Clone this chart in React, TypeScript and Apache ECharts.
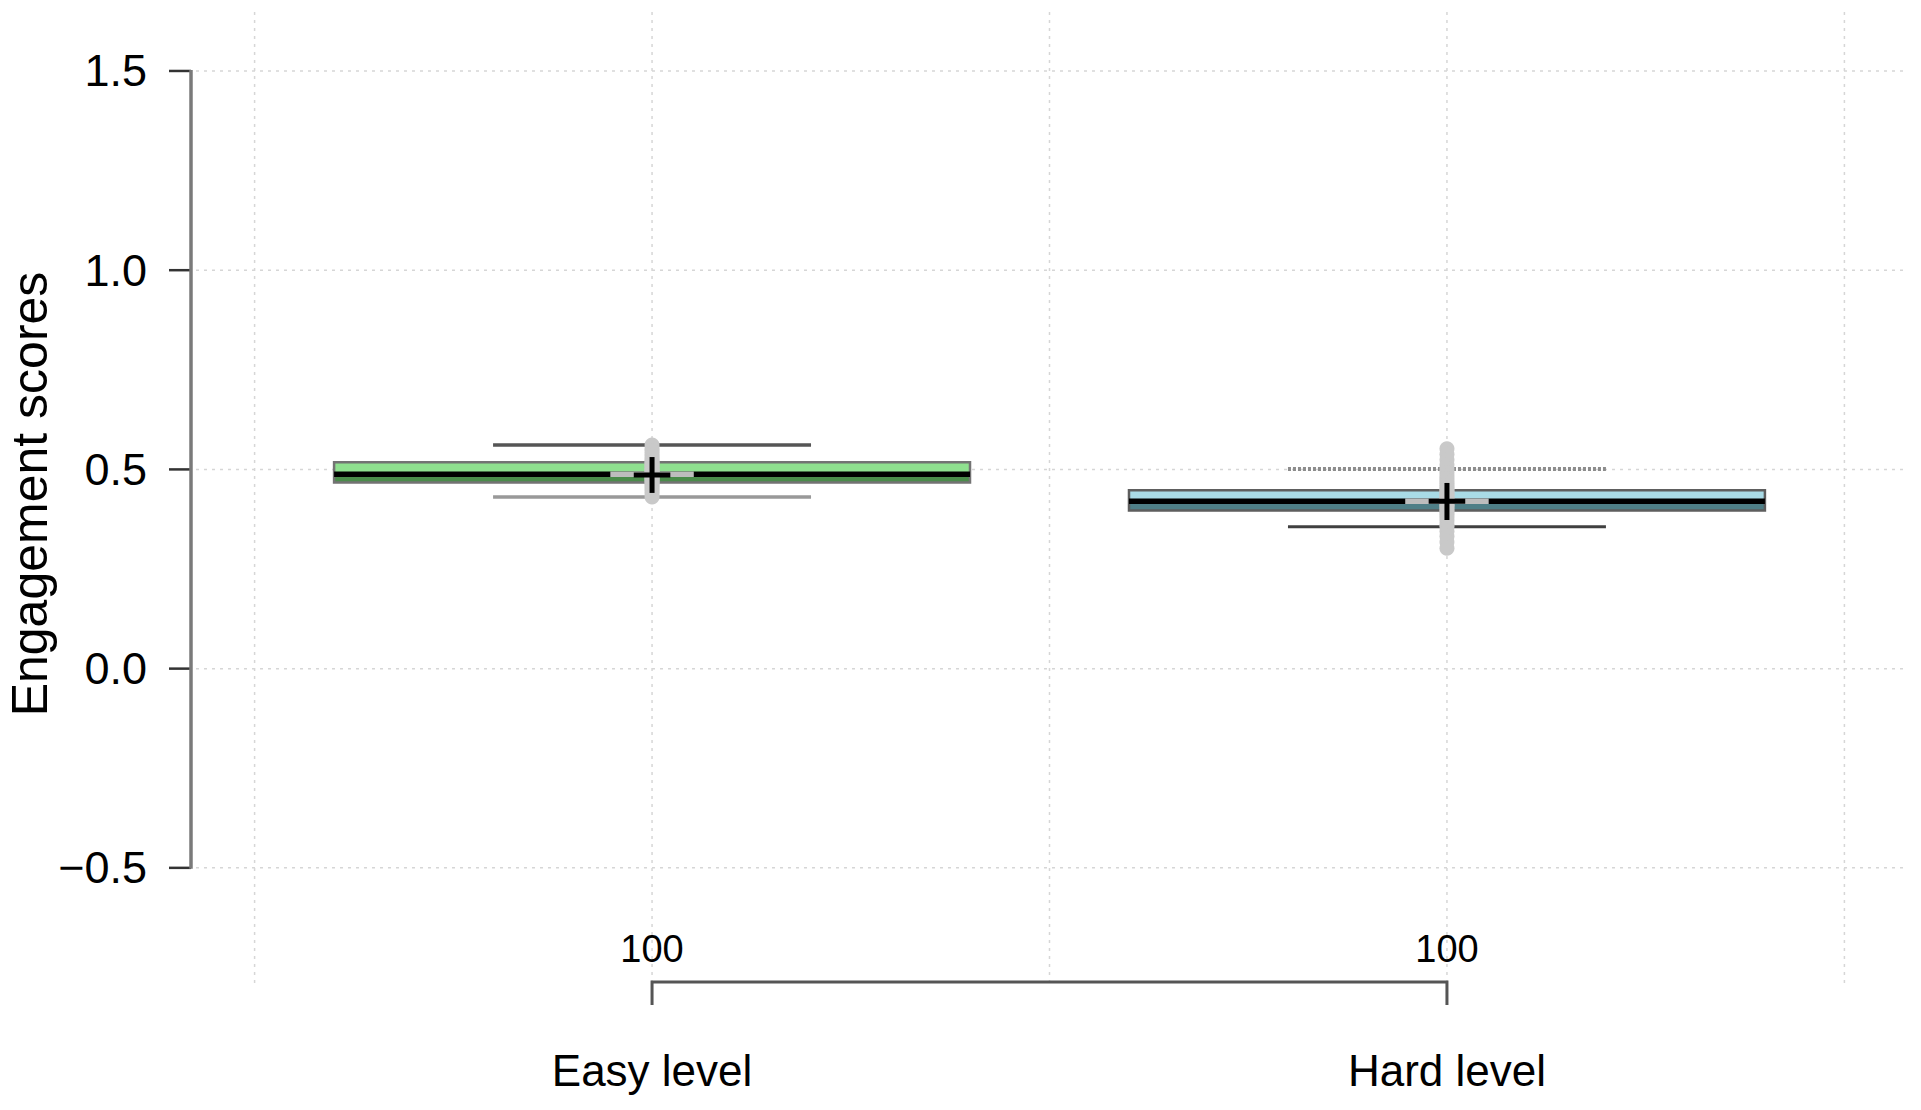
import React, { useEffect, useRef } from "react";
import * as echarts from "echarts";

// ---- data ----
const categories = ["Easy level", "Hard level"];
const yTitle = "Engagement scores";
const groupX = [1, 3];
const counts = [100, 100];
const q1 = [0.467, 0.397];
const median = [0.488, 0.42];
const q3 = [0.518, 0.448];
const whiskerLow = [0.431, 0.356];
const whiskerHigh = [0.561, 0.501];
const means = [0.486, 0.42];
const ciLow = [0.441, 0.373];
const ciHigh = [0.531, 0.466];
const easyPoints = [
  0.561, 0.552, 0.546, 0.539, 0.533, 0.527, 0.522, 0.518, 0.514, 0.511, 0.507, 0.503, 0.5, 0.497, 0.494,
  0.491, 0.488, 0.486, 0.483, 0.48, 0.477, 0.474, 0.471, 0.467, 0.463, 0.458, 0.452, 0.446, 0.439, 0.431,
];
const hardPoints = [
  0.552, 0.538, 0.524, 0.512, 0.501, 0.492, 0.484, 0.477, 0.471, 0.465, 0.459, 0.454, 0.449, 0.445, 0.441,
  0.437, 0.433, 0.429, 0.425, 0.421, 0.418, 0.414, 0.41, 0.406, 0.402, 0.397, 0.392, 0.386, 0.379, 0.371,
  0.362, 0.356, 0.345, 0.332, 0.318, 0.302,
];
const groupPoints = [easyPoints, hardPoints];
const yTicks = [-0.5, 0, 0.5, 1, 1.5];
const xGridValues = [0, 1, 2, 3, 4];
const xMin = -0.16;
const xMax = 4.16;
const yMin = -0.789;
const yMax = 1.648;

// ---- styles ----
const FONT = "Liberation Sans";
const BOX_HW = 0.8;
const WHISKER_HW = 0.4;
const SEG_HW = 0.105;
const CROSS_HW = 0.046;
const TICK_LEN = 22;
const boxColors = [
  { upper: "#8fe08f", lower: "#4a8c4a", border: "#737373" },
  { upper: "#a9dbe6", lower: "#4f7f87", border: "#5e5e5e" },
];
const whiskerStyles = [
  {
    upper: { stroke: "#555555", lineWidth: 3.5 },
    lower: { stroke: "#999999", lineWidth: 3.5 },
  },
  {
    upper: { stroke: "#8c8c8c", lineWidth: 4, lineDash: [3, 2] },
    lower: { stroke: "#404040", lineWidth: 3 },
  },
];
const GRID_STYLE = { stroke: "#d6d6d6", lineWidth: 1.5, lineDash: [3, 5] };

export default function App() {
  const ref = useRef<HTMLDivElement>(null);

  useEffect(() => {
    const chart = echarts.init(ref.current as HTMLDivElement, null, { renderer: "svg" });

    const option: any = {
      animation: false,
      backgroundColor: "#ffffff",
      graphic: [
        {
          type: "text",
          x: 30,
          y: 494,
          rotation: Math.PI / 2,
          silent: true,
          style: {
            text: yTitle,
            fontSize: 50,
            fontFamily: FONT,
            fill: "#000000",
            align: "center",
            verticalAlign: "middle",
          },
        },
      ],
      grid: {
        left: 191,
        top: 12,
        width: 1717,
        height: 971,
        containLabel: false,
        outerBoundsMode: "none",
      },
      xAxis: {
        type: "value",
        min: xMin,
        max: xMax,
        axisLine: { show: false, onZero: false },
        axisTick: { show: false },
        splitLine: { show: false },
        axisLabel: {
          customValues: groupX,
          formatter: (v: number) => {
            const idx = groupX.indexOf(v);
            return idx >= 0 ? categories[idx] : "";
          },
          margin: 65,
          fontSize: 44,
          fontFamily: FONT,
          color: "#000000",
        },
      },
      yAxis: {
        type: "value",
        min: yMin,
        max: yMax,
        axisLine: { show: false },
        axisTick: { show: false },
        splitLine: { show: false },
        axisLabel: {
          customValues: yTicks,
          formatter: (v: number) => v.toFixed(1).replace("-", "\u2212"),
          margin: 44,
          fontSize: 45,
          fontFamily: FONT,
          color: "#000000",
        },
      },
      series: [
        // horizontal grid lines
        {
          type: "custom",
          z: 1,
          silent: true,
          data: yTicks.map((v) => [xMin, v]),
          renderItem: (params: any, api: any) => {
            const cs = params.coordSys;
            const p = api.coord([xMin, api.value(1)]);
            return {
              type: "line",
              shape: { x1: cs.x + 5, y1: p[1], x2: cs.x + cs.width, y2: p[1] },
              style: GRID_STYLE,
            };
          },
        },
        // vertical grid lines
        {
          type: "custom",
          z: 1,
          silent: true,
          data: xGridValues.map((v) => [v, yMin]),
          renderItem: (params: any, api: any) => {
            const cs = params.coordSys;
            const p = api.coord([api.value(0), yMin]);
            return {
              type: "line",
              shape: { x1: p[0], y1: cs.y, x2: p[0], y2: cs.y + cs.height },
              style: GRID_STYLE,
            };
          },
        },
        // y axis ticks
        {
          type: "custom",
          z: 3,
          silent: true,
          data: yTicks.map((v) => [xMin, v]),
          renderItem: (params: any, api: any) => {
            const p = api.coord([xMin, api.value(1)]);
            return {
              type: "line",
              shape: { x1: p[0] - TICK_LEN, y1: p[1], x2: p[0], y2: p[1] },
              style: { stroke: "#333333", lineWidth: 2.5 },
            };
          },
        },
        // y axis line and bracket
        {
          type: "custom",
          z: 3,
          silent: true,
          data: [[xMin, yTicks[0]]],
          renderItem: (params: any, api: any) => {
            const cs = params.coordSys;
            const a0 = api.coord([xMin, yTicks[0]]);
            const a1 = api.coord([xMin, yTicks[yTicks.length - 1]]);
            const b0 = api.coord([groupX[0], yMin]);
            const b1 = api.coord([groupX[groupX.length - 1], yMin]);
            const by = cs.y + cs.height - 1;
            return {
              type: "group",
              children: [
                {
                  type: "line",
                  shape: { x1: a0[0], y1: a0[1] + 1, x2: a1[0], y2: a1[1] - 1 },
                  style: { stroke: "#7a7a7a", lineWidth: 3.5 },
                },
                {
                  type: "polyline",
                  shape: {
                    points: [
                      [b0[0], by + 23],
                      [b0[0], by],
                      [b1[0], by],
                      [b1[0], by + 23],
                    ],
                  },
                  style: { stroke: "#555555", lineWidth: 3, fill: null },
                },
              ],
            };
          },
        },
        // boxes, points, means
        {
          type: "custom",
          z: 5,
          silent: true,
          data: groupX.map((x, i) => [x, median[i]]),
          renderItem: (params: any, api: any) => {
            const i = params.dataIndex;
            const cs = params.coordSys;
            const x = groupX[i];
            const c = (xv: number, yv: number) => api.coord([xv, yv]);
            const [bl, yq1] = c(x - BOX_HW, q1[i]);
            const [br, yq3] = c(x + BOX_HW, q3[i]);
            const [xc, ymed] = c(x, median[i]);
            const [wl, ywh] = c(x - WHISKER_HW, whiskerHigh[i]);
            const [wr, ywl] = c(x + WHISKER_HW, whiskerLow[i]);
            const [sl] = c(x - SEG_HW, median[i]);
            const [sr] = c(x + SEG_HW, median[i]);
            const [cl, ymean] = c(x - CROSS_HW, means[i]);
            const [cr] = c(x + CROSS_HW, means[i]);
            const [, yciL] = c(x, ciLow[i]);
            const [, yciH] = c(x, ciHigh[i]);
            const col = boxColors[i];
            const ws = whiskerStyles[i];
            const children: any[] = [
              {
                type: "line",
                shape: { x1: wl, y1: ywh, x2: wr, y2: ywh },
                style: ws.upper,
              },
              {
                type: "line",
                shape: { x1: wl, y1: ywl, x2: wr, y2: ywl },
                style: ws.lower,
              },
              {
                type: "rect",
                shape: { x: bl, y: yq3, width: br - bl, height: ymed - yq3 },
                style: { fill: col.upper },
              },
              {
                type: "rect",
                shape: { x: bl, y: ymed, width: br - bl, height: yq1 - ymed },
                style: { fill: col.lower },
              },
              {
                type: "rect",
                shape: { x: bl, y: yq3, width: br - bl, height: yq1 - yq3 },
                style: { fill: null, stroke: col.border, lineWidth: 2.5 },
              },
              {
                type: "line",
                shape: { x1: bl, y1: ymed, x2: br, y2: ymed },
                style: { stroke: "#000000", lineWidth: 5.5 },
              },
            ];
            groupPoints[i].forEach((v) => {
              const p = c(x, v);
              children.push({
                type: "circle",
                shape: { cx: p[0], cy: p[1], r: 7.5 },
                style: { fill: "#c9c9c9" },
              });
            });
            children.push(
              {
                type: "line",
                shape: { x1: sl, y1: ymed, x2: sr, y2: ymed },
                style: { stroke: "#bdbdbd", lineWidth: 5.5 },
              },
              {
                type: "line",
                shape: { x1: cl, y1: ymean, x2: cr, y2: ymean },
                style: { stroke: "#000000", lineWidth: 5 },
              },
              {
                type: "line",
                shape: { x1: xc, y1: yciH, x2: xc, y2: yciL },
                style: { stroke: "#000000", lineWidth: 5 },
              },
              {
                type: "text",
                style: {
                  text: String(counts[i]),
                  x: xc,
                  y: cs.y + cs.height - 34,
                  fontSize: 38,
                  fontFamily: FONT,
                  fill: "#000000",
                  align: "center",
                  verticalAlign: "middle",
                },
              }
            );
            return { type: "group", children };
          },
        },
      ],
    };

    chart.setOption(option);
    return () => chart.dispose();
  }, []);

  return (
    <div
      ref={ref}
      style={{ position: "fixed", left: 0, top: 0, width: 1921, height: 1110, background: "#ffffff" }}
    />
  );
}
